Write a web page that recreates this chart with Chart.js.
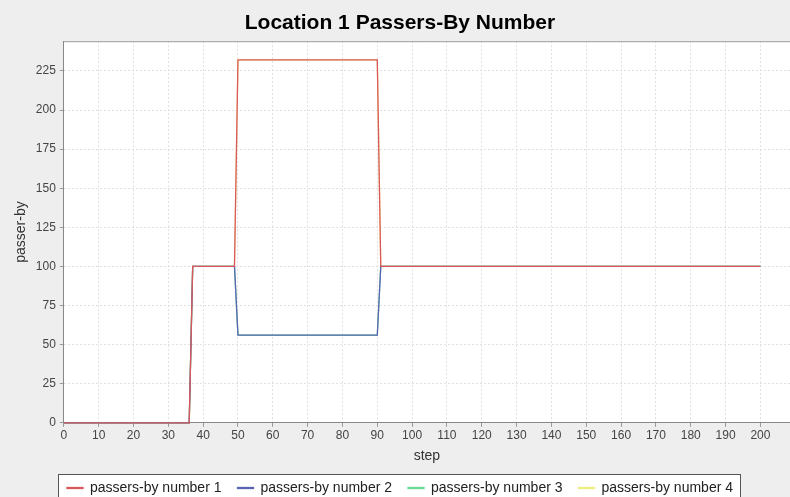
<!DOCTYPE html>
<html>
<head>
<meta charset="utf-8">
<script src="https://cdn.jsdelivr.net/npm/chart.js@4"></script>
<style>
  html, body { margin: 0; padding: 0; background: #eeeeee; overflow: hidden; }
  #wrap { width: 790px; height: 497px; overflow: hidden; }
</style>
</head>
<body>
<div id="wrap"><canvas id="passersChart" width="790" height="505"></canvas></div>
<script>
// step values where the lines change direction
const steps = [0, 36, 37, 49, 50, 90, 91, 200];
// passers-by counts per series
const passers1 = [0, 0, 100, 100, 232, 232, 100, 100];
const passers2 = [0, 0, 100, 100, 56, 56, 100, 100];
const passers3 = [0, 0, 100, 100, 56, 56, 100, 100];
const passers4 = [0, 0, 100, 100, 232, 232, 100, 100];
const seriesNames = ['passers-by number 1', 'passers-by number 2', 'passers-by number 3', 'passers-by number 4'];
const seriesColors = ['#d8585c', '#5a64b2', '#6ad898', '#eeee80'];
const yTicks = [0, 25, 50, 75, 100, 125, 150, 175, 200, 225];
const xTicks = [0, 10, 20, 30, 40, 50, 60, 70, 80, 90, 100, 110, 120, 130, 140, 150, 160, 170, 180, 190, 200];

const allSeries = [passers1, passers2, passers3, passers4];
const FONT = 'Liberation Sans, Arial, sans-serif';

function toPoints(values) {
    return steps.map((s, i) => ({ x: s, y: values[i] }));
}

function legendFrame(chart) {
    const boxes = chart.legend.legendHitBoxes;
    if (!boxes || !boxes.length) return null;
    const left = Math.min(...boxes.map(b => b.left)) - 9;
    const right = Math.max(...boxes.map(b => b.left + b.width)) + 7;
    const top = Math.min(...boxes.map(b => b.top)) - 7;
    return { left: Math.round(left), right: Math.round(right), top: Math.round(top) };
}

// fond gris + zone de tracé blanche + cadre de la légende
const backgroundPlugin = {
    id: 'jfreeLook',
    beforeDraw(chart) {
        const ctx = chart.ctx;
        const a = chart.chartArea;
        ctx.save();
        ctx.fillStyle = '#eeeeee';
        ctx.fillRect(0, 0, chart.width, chart.height);
        ctx.fillStyle = '#ffffff';
        ctx.fillRect(a.left, a.top, a.right - a.left, a.bottom - a.top);
        const f = legendFrame(chart);
        if (f) {
            ctx.fillRect(f.left, f.top, f.right - f.left, 60);
        }
        ctx.restore();
    },
    afterDraw(chart) {
        const ctx = chart.ctx;
        const a = chart.chartArea;
        ctx.save();
        ctx.strokeStyle = '#9a9a9a';
        ctx.lineWidth = 1;
        ctx.beginPath();
        ctx.moveTo(a.left, a.top + 0.5);
        ctx.lineTo(a.right, a.top + 0.5);
        ctx.stroke();

        const f = legendFrame(chart);
        if (f) {
            ctx.strokeStyle = '#555555';
            ctx.strokeRect(f.left + 0.5, f.top + 0.5, f.right - f.left, 60);
        }
        ctx.restore();
    }
};

const ctx = document.getElementById('passersChart').getContext('2d');

// la série 1 est dessinée en dernier (order le plus petit = au-dessus)
const datasets = allSeries.map((vals, i) => ({
    label: seriesNames[i],
    data: toPoints(vals),
    borderColor: seriesColors[i],
    backgroundColor: seriesColors[i],
    borderWidth: 1.3,
    pointRadius: 0,
    tension: 0,
    clip: 3,
    order: i
}));

new Chart(ctx, {
    type: 'line',
    data: { datasets: datasets },
    options: {
        responsive: false,
        animation: false,
        layout: { padding: { left: 10, right: 0, top: 0, bottom: 0 } },
        scales: {
            x: {
                type: 'linear',
                min: 0,
                max: 208.5,
                afterBuildTicks: axis => { axis.ticks = xTicks.map(v => ({ value: v })); },
                ticks: { color: '#444', font: { family: FONT, size: 12 }, padding: 2, maxRotation: 0, autoSkip: false },
                grid: { color: '#e0e0e0', tickLength: 4, tickColor: '#999' },
                border: { color: '#888888', dash: [2, 2] },
                title: { display: true, text: 'step', color: '#333', font: { family: FONT, size: 14 }, padding: { top: 3, bottom: 0 } }
            },
            y: {
                min: 0,
                max: 244,
                afterBuildTicks: axis => { axis.ticks = yTicks.map(v => ({ value: v })); },
                ticks: { color: '#444', font: { family: FONT, size: 12 }, padding: 4 },
                grid: { color: '#e0e0e0', tickLength: 4, tickColor: '#999' },
                border: { color: '#888888', dash: [2, 2] },
                title: { display: true, text: 'passer-by', color: '#333', font: { family: FONT, size: 14 }, padding: { top: 3, bottom: 2 } }
            }
        },
        plugins: {
            title: {
                display: true,
                text: 'Location 1 Passers-By Number',
                color: '#000',
                font: { family: FONT, size: 21, weight: 'bold' },
                padding: { top: 11, bottom: 5 }
            },
            legend: {
                position: 'bottom',
                labels: {
                    boxWidth: 16,
                    boxHeight: 1,
                    color: '#222',
                    font: { family: FONT, size: 14 },
                    padding: 16
                }
            },
            tooltip: { enabled: false }
        }
    },
    plugins: [backgroundPlugin]
});
</script>
</body>
</html>
